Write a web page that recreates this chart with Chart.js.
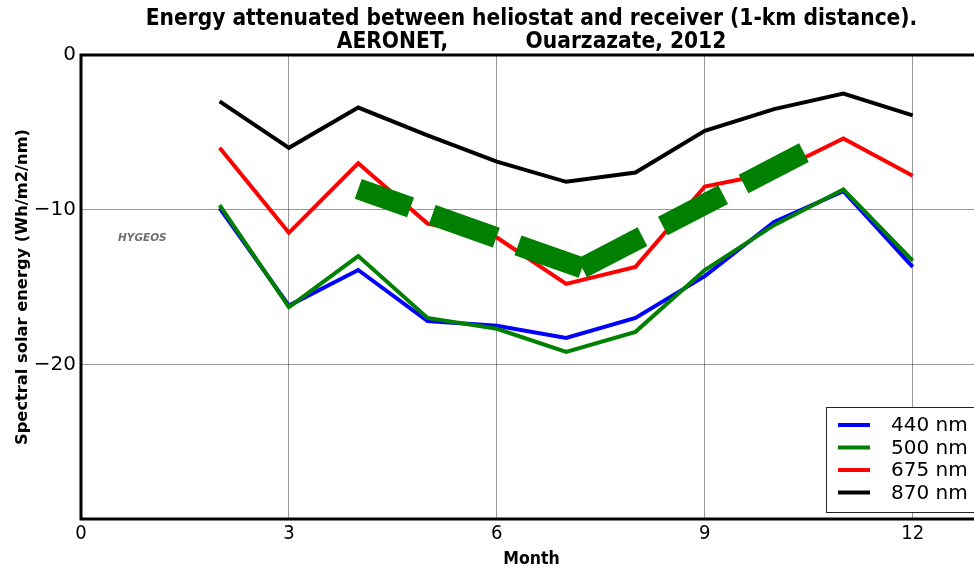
<!DOCTYPE html>
<html>
<head>
<meta charset="utf-8">
<script src="https://cdn.jsdelivr.net/npm/chart.js@4/dist/chart.umd.min.js"></script>
<style>
  html, body { margin: 0; padding: 0; background: #fff; overflow: hidden; }
  #grafico { display: block; }
</style>
</head>
<body>
<canvas id="grafico" width="1000" height="570"></canvas>
<script>
// monthly values
const months = [2, 3, 4, 5, 6, 7, 8, 9, 10, 11, 12];
const nm440 = [-9.9, -16.2, -13.9, -17.2, -17.5, -18.3, -17.0, -14.3, -10.8, -8.8, -13.7];
const nm500 = [-9.7, -16.3, -13.0, -17.0, -17.7, -19.2, -17.9, -13.9, -11.0, -8.7, -13.3];
const nm675 = [-6.0, -11.5, -7.0, -10.9, -11.8, -14.8, -13.7, -8.5, -7.6, -5.4, -7.8];
const nm870 = [-3.0, -6.0, -3.4, -5.2, -6.9, -8.2, -7.6, -4.9, -3.5, -2.5, -3.9];

// the thick green dashed strokes (two pieces from a common vertex)
const dashLeftX = [7.23, 4.0];
const dashLeftY = [-13.77, -8.65];
const dashRightX = [7.23, 10.45];
const dashRightY = [-13.77, -6.27];

const bandLabels = ['440 nm', '500 nm', '675 nm', '870 nm'];
const bandColors = ['#0000ff', '#008000', '#ff0000', '#000000'];

const titleLines = ['Energy attenuated between heliostat and receiver (1-km distance).',
                    'AERONET,           Ouarzazate, 2012'];

const xTicks = [0, 3, 6, 9, 12];
const yTicks = [0, -10, -20, -30];

const fonteCond = "'DejaVu Sans Condensed', 'DejaVu Sans', sans-serif";
const fonte = "'DejaVu Sans', sans-serif";

function pares(xs, ys) {
  return xs.map((x, i) => ({ x: x, y: ys[i] }));
}

const series = [nm440, nm500, nm675, nm870];

const datasets = series.map((vals, i) => ({
  label: bandLabels[i],
  data: pares(months, vals),
  borderColor: bandColors[i],
  borderWidth: 4,
  pointRadius: 0,
  tension: 0,
  fill: false,
  order: 5 - i
}));

[[dashLeftX, dashLeftY], [dashRightX, dashRightY]].forEach(([xs, ys]) => {
  datasets.push({
    label: '',
    data: pares(xs, ys),
    borderColor: '#008000',
    borderWidth: 21,
    borderDash: [68, 23],
    borderCapStyle: 'butt',
    pointRadius: 0,
    tension: 0,
    fill: false,
    order: 0
  });
});

// title centred on the axes, spines, legend box and the HYGEOS tag
const extras = {
  id: 'extras',
  afterDraw(chart) {
    const ctx = chart.ctx;
    const a = chart.chartArea;
    ctx.save();

    ctx.font = 'bold 22.5px ' + fonteCond;
    ctx.fillStyle = '#000';
    ctx.textAlign = 'center';
    ctx.textBaseline = 'middle';
    const cx = (a.left + a.right) / 2;
    titleLines.forEach((t, i) => ctx.fillText(t, cx, 19.5 + i * 23));

    ctx.font = 'italic bold 10.5px ' + fonte;
    ctx.fillStyle = '#707070';
    ctx.textAlign = 'left';
    ctx.fillText('HYGEOS', 118, 238);

    ctx.strokeStyle = '#000';
    ctx.lineWidth = 3;
    ctx.strokeRect(a.left, a.top, a.right - a.left, a.bottom - a.top);

    // legend
    const bx = 826, by = 407, bw = 170, bh = 105;
    ctx.fillStyle = '#fff';
    ctx.fillRect(bx, by, bw, bh);
    ctx.lineWidth = 1;
    ctx.strokeStyle = '#222';
    ctx.strokeRect(bx + 0.5, by + 0.5, bw, bh);
    ctx.font = '20px ' + fonte;
    bandLabels.forEach((lab, i) => {
      const y = 425 + i * 22.5;
      ctx.strokeStyle = bandColors[i];
      ctx.lineWidth = 4;
      ctx.beginPath();
      ctx.moveTo(838, y);
      ctx.lineTo(870, y);
      ctx.stroke();
      ctx.fillStyle = '#000';
      ctx.fillText(lab, 891, y + 1);
    });
    ctx.restore();
  }
};

const ctx = document.getElementById('grafico').getContext('2d');

const grafico = new Chart(ctx, {
  type: 'line',
  data: { datasets: datasets },
  options: {
    responsive: false,
    animation: false,
    layout: { padding: { left: 0, right: 18, top: 55, bottom: 0 } },
    plugins: {
      legend: { display: false },
      tooltip: { enabled: false },
      title: { display: false }
    },
    scales: {
      x: {
        type: 'linear',
        min: 0,
        max: 13,
        afterBuildTicks: s => { s.ticks = xTicks.map(v => ({ value: v })); },
        afterFit: s => { s.height = 51; },
        grid: { color: 'rgba(0,0,0,0.4)', lineWidth: 1, drawTicks: false },
        border: { display: false },
        ticks: { color: '#000', padding: 3, font: { family: fonteCond, size: 20 } },
        title: {
          display: true,
          text: 'Month',
          color: '#000',
          font: { family: fonteCond, size: 17.5, weight: 'bold' },
          padding: { top: 0, bottom: 0 }
        }
      },
      y: {
        min: -30,
        max: 0,
        afterBuildTicks: s => { s.ticks = yTicks.map(v => ({ value: v })); },
        afterFit: s => { s.width = 81; },
        grid: { color: 'rgba(0,0,0,0.4)', lineWidth: 1, drawTicks: false },
        border: { display: false },
        ticks: {
          color: '#000',
          padding: 5,
          font: { family: fonte, size: 20 },
          callback: v => v === -30 ? '' : (v < 0 ? '\u2212' + (-v) : '' + v)
        },
        title: {
          display: true,
          text: 'Spectral solar energy (Wh/m2/nm)',
          color: '#000',
          font: { family: fonte, size: 16.3, weight: 'bold' },
          padding: { top: 13, bottom: 0 }
        }
      }
    }
  },
  plugins: [extras]
});
</script>
</body>
</html>
